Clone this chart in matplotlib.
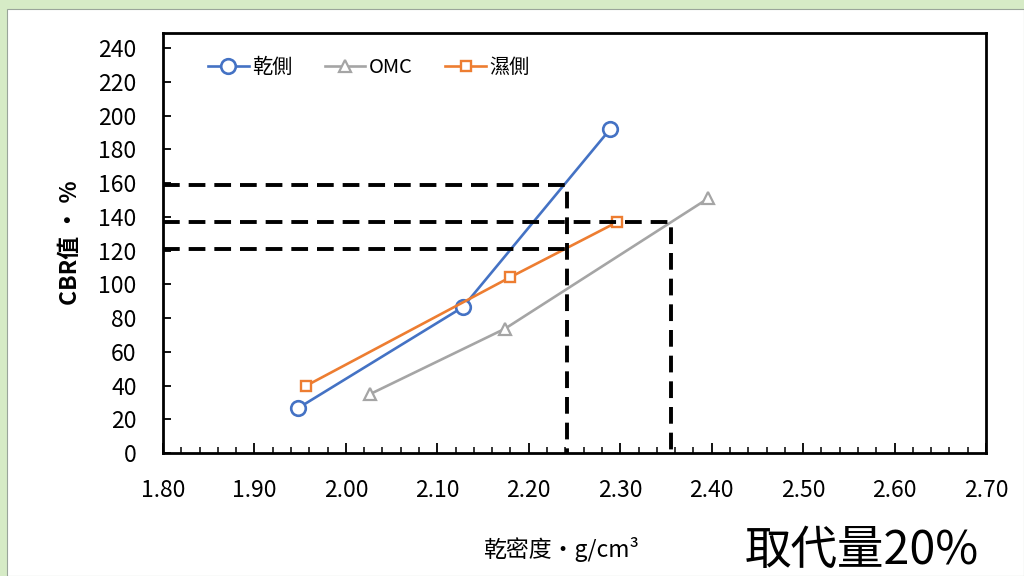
import matplotlib
matplotlib.use("Agg")
import matplotlib.pyplot as plt
from matplotlib.patches import Rectangle
from matplotlib.ticker import MultipleLocator, FormatStrFormatter

plt.rcParams['font.family'] = ['Noto Sans CJK TC', 'DejaVu Sans']

# Dry density (g/cm3) and CBR (%) for each moisture condition
dry_x = [1.948, 2.128, 2.289]
dry_y = [26.7, 86.5, 192.0]
omc_x = [2.026, 2.174, 2.396]
omc_y = [34.8, 73.7, 150.9]
wet_x = [1.956, 2.180, 2.297]
wet_y = [39.7, 104.3, 137.0]

series_names = ['乾側', 'OMC', '濕側']

# Reference read-offs for the design density lines
ref_x = [2.242, 2.356]
ref_cbr_left = [159.0, 121.0]   # read at ref_x[0]
ref_cbr_right = 137.0           # read at ref_x[1]

fig = plt.figure(figsize=(10.24, 5.76), dpi=100)
fig.patch.set_facecolor('#d6ebc6')
fig.patches.append(Rectangle((7 / 1024, 0), 1 - 7 / 1024, 1 - 9 / 576,
                             transform=fig.transFigure, facecolor='white',
                             edgecolor='#9aa59a', linewidth=0.8, zorder=-10))

ax = fig.add_axes([163 / 1024, 1 - 453 / 576, (986 - 163) / 1024, (453 - 33) / 576])
ax.set_facecolor('white')
ax.set_xlim(1.80, 2.70)
ax.set_ylim(0, 249)

ax.plot(dry_x, dry_y, color='#4472C4', lw=1.9, marker='o', ms=10.5,
        mfc='white', mec='#4472C4', mew=1.9, label=series_names[0], zorder=4)
ax.plot(omc_x, omc_y, color='#A5A5A5', lw=1.9, marker='^', ms=8,
        mfc='white', mec='#A5A5A5', mew=1.6, label=series_names[1], zorder=3)
ax.plot(wet_x, wet_y, color='#ED7D31', lw=1.9, marker='s', ms=7,
        mfc='white', mec='#ED7D31', mew=1.7, label=series_names[2], zorder=4)

dash = dict(color='black', lw=2.8, dashes=(4.3, 2.3), zorder=5)
ax.plot([1.80, ref_x[0], ref_x[0]], [ref_cbr_left[0], ref_cbr_left[0], 0], **dash)
ax.plot([1.80, ref_x[0]], [ref_cbr_left[1], ref_cbr_left[1]], **dash)
ax.plot([1.80, ref_x[1], ref_x[1]], [ref_cbr_right, ref_cbr_right, 0], **dash)

ax.xaxis.set_major_locator(MultipleLocator(0.1))
ax.xaxis.set_minor_locator(MultipleLocator(0.02))
ax.xaxis.set_major_formatter(FormatStrFormatter('%.2f'))
ax.set_yticks(range(0, 241, 20))

ax.tick_params(axis='x', which='major', direction='in', length=7, width=1.3,
               labelsize=16.5, pad=19)
ax.tick_params(axis='x', which='minor', direction='in', length=4, width=1.1)
ax.tick_params(axis='y', which='major', direction='in', length=6, width=1.3,
               labelsize=16.5, pad=19)
for s in ax.spines.values():
    s.set_linewidth(2.0)
    s.set_color('black')

ax.set_xlabel('乾密度·g/cm³', fontsize=16.5, labelpad=25)
ax.xaxis.label.set_x(0.484)
ax.set_ylabel('CBR值 · %', fontsize=16.5, fontweight='bold', labelpad=12)

ax.legend(loc='upper left', bbox_to_anchor=(0.033, 0.985), ncol=3, frameon=False,
          fontsize=14.5, handlelength=2.0, columnspacing=1.6, handletextpad=0.2)

fig.text(745 / 1024, 1 / 576, '取代量20%', fontsize=33.5, va='bottom', ha='left')

fig.savefig('out.png', dpi=100, facecolor=fig.get_facecolor())
